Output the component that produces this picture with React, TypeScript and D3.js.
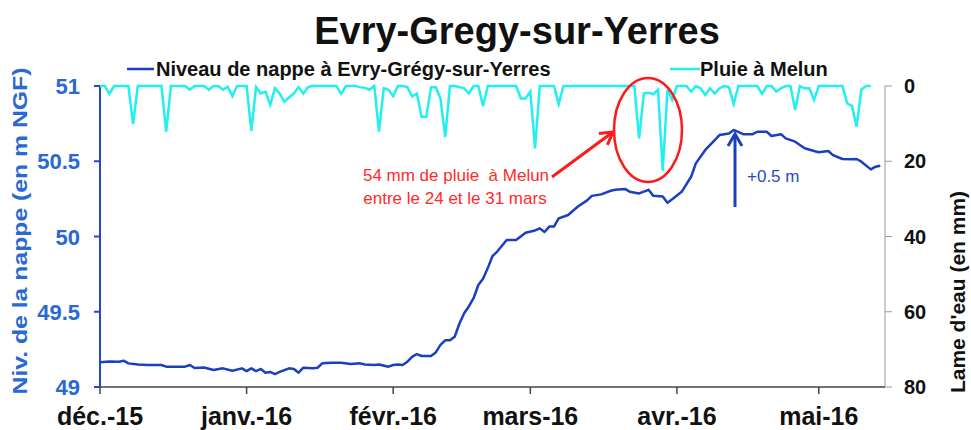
import React from 'react';
import * as d3 from 'd3';

// Groundwater level (m NGF): day offset from 2015-12-01 and value
const levelDays = [0, 2, 4, 5, 6, 8, 10, 13, 14, 18, 19, 20, 22, 24, 26, 28, 30, 31, 32, 33, 34, 35, 36, 37, 38, 40, 41, 42, 43, 45, 46, 47, 49, 51, 53, 55, 56, 58, 59, 61, 62, 63, 64, 65, 66, 67, 68, 70, 71, 72, 73, 74, 75, 76, 77, 78, 79, 80, 81, 82, 83, 84, 86, 88, 90, 92, 93, 94, 95, 96, 97, 99, 101, 103, 104, 106, 108, 109, 111, 112, 114, 116, 117, 119, 120, 121, 123, 125, 126, 128, 130, 131, 133, 134, 136, 138, 139, 141, 142, 144, 145, 147, 149, 151, 152, 154, 155, 157, 159, 160, 161, 163, 164, 165];
const levelValues = [49.164, 49.17, 49.168, 49.175, 49.157, 49.15, 49.146, 49.146, 49.135, 49.135, 49.146, 49.126, 49.13, 49.113, 49.124, 49.108, 49.124, 49.106, 49.124, 49.106, 49.12, 49.095, 49.1, 49.086, 49.1, 49.124, 49.12, 49.095, 49.128, 49.124, 49.128, 49.157, 49.161, 49.161, 49.153, 49.157, 49.15, 49.146, 49.15, 49.135, 49.146, 49.15, 49.146, 49.168, 49.2, 49.219, 49.206, 49.206, 49.23, 49.28, 49.31, 49.31, 49.334, 49.42, 49.49, 49.535, 49.59, 49.678, 49.72, 49.79, 49.87, 49.9, 49.977, 49.977, 50.025, 50.04, 50.054, 50.03, 50.066, 50.066, 50.12, 50.143, 50.198, 50.24, 50.27, 50.28, 50.304, 50.31, 50.316, 50.298, 50.286, 50.31, 50.27, 50.266, 50.225, 50.248, 50.297, 50.397, 50.486, 50.575, 50.641, 50.674, 50.685, 50.708, 50.68, 50.68, 50.696, 50.696, 50.668, 50.68, 50.652, 50.63, 50.586, 50.568, 50.56, 50.568, 50.541, 50.515, 50.513, 50.515, 50.497, 50.446, 50.464, 50.47];

// Daily rain at Melun (mm), from 2015-12-01
const rainMm = [
  0, 0, 2.1, 0, 0, 0, 0, 10.1, 0, 0,
  0, 0, 0, 0, 12.1, 0, 0, 0, 0, 1,
  0, 0, 0, 1, 0, 0, 1, 0.2, 2.7, 0,
  0, 0, 11.9, 0.3, 2, 1.5, 5, 0.6, 2, 4.2,
  3, 2, 0.3, 2, 0.3, 0, 0, 0, 0, 0,
  0, 2.1, 0, 0, 0, 0.3, 0.5, 1, 0, 12.1,
  0.6, 1, 2.7, 0, 0, 0.3, 2.8, 2, 8.2, 8.2,
  0.3, 0.3, 3.3, 13.5, 0, 0, 0.3, 0.6, 2, 0,
  0, 5.3, 0, 0, 0, 0, 0, 0, 0, 3.3,
  3.3, 1.5, 16.6, 0, 0, 0, 0, 4.8, 0, 0,
  0, 0, 0, 0, 0, 0, 0, 0, 0, 0,
  0, 0, 0, 0, 13.9, 2, 1.8, 2.2, 1, 22.5,
  1, 3.7, 0, 0, 0, 1.5, 0, 0.6, 2.4, 0.6,
  2, 0.6, 0, 0.3, 4.8, 0, 0, 0, 0, 0,
  2.1, 0, 0, 1.5, 0.6, 0, 0, 6.4, 0, 0.6,
  0.6, 3.7, 0, 0, 0, 0, 0, 0, 4.6, 5.3,
  10.8, 1, 0, 0,
];

const monthLabels = ['déc.-15', 'janv.-16', 'févr.-16', 'mars-16', 'avr.-16', 'mai-16'];
const leftTicks = [49, 49.5, 50, 50.5, 51];
const rightTicks = [0, 20, 40, 60, 80];

const FONT = "'Liberation Sans', Arial, Helvetica, sans-serif";
const LEVEL_COLOR = '#1a3fbf';
const RAIN_COLOR = '#22efef';
const LEFT_BLUE = '#2a68d4';

export default function App() {
  const start = new Date(Date.UTC(2015, 11, 1));
  const end = new Date(Date.UTC(2016, 4, 15));
  const x = d3.scaleUtc().domain([start, end]).range([100, 885]);
  const yL = d3.scaleLinear().domain([49, 51]).range([387, 86]);
  const yR = d3.scaleLinear().domain([0, 80]).range([86, 387]);
  const dayToDate = (d: number) => d3.utcDay.offset(start, d);

  const levelLine = d3
    .line<number>()
    .x((_, i) => x(dayToDate(levelDays[i])))
    .y((v) => yL(v));
  const rainLine = d3
    .line<number>()
    .x((_, i) => x(dayToDate(i)))
    .y((v) => yR(v));

  const months = d3.utcMonth.range(start, end);

  return (
    <svg
      width={971}
      height={430}
      style={{ position: 'absolute', left: 0, top: 0, background: '#fff', fontFamily: FONT }}
    >
      <rect x={0} y={0} width={971} height={430} fill="#fff" />
      {/* Title */}
      <text x={517} y={44} textAnchor="middle" fontSize={38} fontWeight="bold" fill="#111">
        Evry-Gregy-sur-Yerres
      </text>

      {/* Legend */}
      <line x1={127} x2={154} y1={69} y2={69} stroke={LEVEL_COLOR} strokeWidth={2.5} />
      <text x={156} y={76} fontSize={20} fontWeight="bold" fill="#111">
        Niveau de nappe à Evry-Grégy-sur-Yerres
      </text>
      <line x1={670} x2={700} y1={69} y2={69} stroke={RAIN_COLOR} strokeWidth={2.5} />
      <text x={700} y={76} fontSize={20} fontWeight="bold" fill="#111">
        Pluie à Melun
      </text>

      {/* Right axis */}
      <line x1={885} x2={885} y1={86} y2={387} stroke="#9a9a9a" strokeWidth={1} />
      {rightTicks.map((t) => (
        <g key={'r' + t}>
          <line x1={885} x2={892} y1={yR(t)} y2={yR(t)} stroke="#9a9a9a" strokeWidth={1} />
          <text x={904} y={yR(t) + 7} fontSize={20} fontWeight="bold" fill="#111">
            {t}
          </text>
        </g>
      ))}
      <text
        transform="translate(965,292) rotate(-90)"
        textAnchor="middle"
        fontSize={21}
        fontWeight="bold"
        fill="#111"
      >
        Lame d'eau (en mm)
      </text>

      {/* Bottom axis */}
      <line x1={100} x2={885} y1={387} y2={387} stroke="#444" strokeWidth={1.5} />
      {months.map((m, i) => (
        <g key={'m' + i}>
          <line x1={x(m)} x2={x(m)} y1={387} y2={394} stroke="#444" strokeWidth={1.5} />
          <text x={x(m)} y={425} textAnchor="middle" fontSize={25} fontWeight="bold" fill="#111">
            {monthLabels[i]}
          </text>
        </g>
      ))}

      {/* Left axis */}
      <line x1={100} x2={100} y1={86} y2={387} stroke="#2448c8" strokeWidth={2} />
      {leftTicks.map((t) => (
        <g key={'l' + t}>
          <line x1={94} x2={100} y1={yL(t)} y2={yL(t)} stroke="#2448c8" strokeWidth={2} />
          <text x={80} y={yL(t) + 8} textAnchor="end" fontSize={22} fontWeight="bold" fill={LEFT_BLUE}>
            {t}
          </text>
        </g>
      ))}
      <text
        transform="translate(27,231) rotate(-90)"
        textAnchor="middle"
        fontSize={21}
        fontWeight="bold"
        fill={LEFT_BLUE}
        textLength={327}
        lengthAdjust="spacingAndGlyphs"
      >
        Niv. de la nappe (en m NGF)
      </text>

      {/* Series */}
      <path d={rainLine(rainMm) || ''} fill="none" stroke={RAIN_COLOR} strokeWidth={2.5} strokeLinejoin="miter" />
      <path d={levelLine(levelValues) || ''} fill="none" stroke={LEVEL_COLOR} strokeWidth={2.5} strokeLinejoin="round" />

      {/* Red annotation */}
      <ellipse cx={648} cy={130} rx={34} ry={52} fill="none" stroke="#ff1a1a" strokeWidth={2.5} />
      <line x1={552} y1={177} x2={613} y2={132} stroke="#ff1a1a" strokeWidth={3} />
      <polyline points="599,133.6 613,132 607.4,144.8" fill="none" stroke="#ff1a1a" strokeWidth={3} />
      <text x={456} y={181} textAnchor="middle" fontSize={17} fill="#ff2a2a" style={{ whiteSpace: 'pre' }}>
        {'54 mm de pluie  à Melun'}
      </text>
      <text x={455} y={204} textAnchor="middle" fontSize={17} fill="#ff2a2a" style={{ whiteSpace: 'pre' }}>
        {'entre le 24 et le 31 mars'}
      </text>

      {/* Blue annotation */}
      <line x1={735} y1={207} x2={735} y2={134} stroke={LEVEL_COLOR} strokeWidth={3} />
      <polyline points="728,146 735,134 742,146" fill="none" stroke={LEVEL_COLOR} strokeWidth={3} />
      <text x={747} y={182} fontSize={17} fill="#2a4cc0">
        +0.5 m
      </text>
    </svg>
  );
}
